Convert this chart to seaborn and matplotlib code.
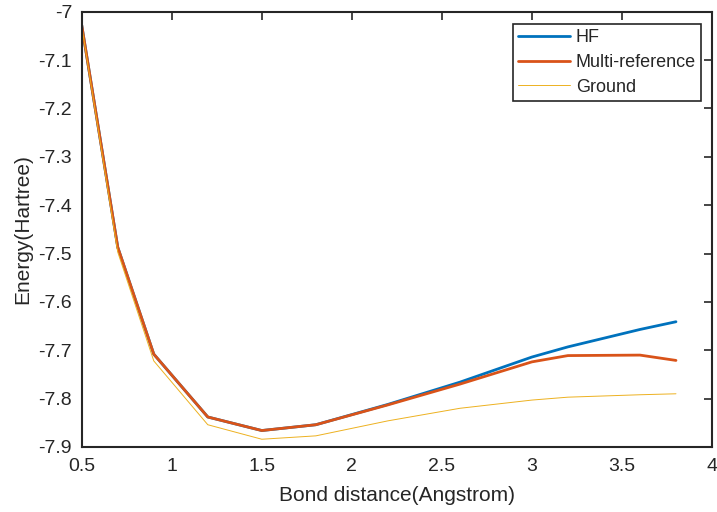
import matplotlib
matplotlib.use('Agg')
import matplotlib.pyplot as plt
import pandas as pd
import seaborn as sns
from matplotlib.ticker import FuncFormatter

bond = [0.5, 0.7, 0.9, 1.2, 1.5, 1.8, 2.2, 2.6, 3.0, 3.2, 3.6, 3.8]
hf = [-7.028, -7.487, -7.708, -7.838, -7.866, -7.854, -7.812, -7.766, -7.714, -7.693, -7.657, -7.641]
multi_ref = [-7.028, -7.487, -7.708, -7.838, -7.866, -7.854, -7.813, -7.770, -7.724, -7.711, -7.710, -7.721]
ground = [-7.030, -7.497, -7.722, -7.854, -7.884, -7.877, -7.846, -7.820, -7.803, -7.797, -7.792, -7.790]

series_names = ['HF', 'Multi-reference', 'Ground']
colors = ['#0072BD', '#D95319', '#EDB120']
widths = [2.0, 2.0, 0.7]

sns.set_style('white')
plt.rcParams['font.family'] = ['Liberation Sans', 'DejaVu Sans']
plt.rcParams['axes.unicode_minus'] = False

fig = plt.figure(figsize=(7.17, 5.12), dpi=100)
ax = fig.add_axes([0.114, 0.127, 0.879, 0.850])

for name, vals, c, lw in zip(series_names, [hf, multi_ref, ground], colors, widths):
    df = pd.DataFrame({'x': bond, 'y': vals})
    sns.lineplot(data=df, x='x', y='y', ax=ax, color=c, linewidth=lw, label=name)

ax.set_xlim(0.5, 4)
ax.set_ylim(-7.9, -7)
ax.set_xticks([0.5, 1, 1.5, 2, 2.5, 3, 3.5, 4])
ax.set_yticks([-7.9, -7.8, -7.7, -7.6, -7.5, -7.4, -7.3, -7.2, -7.1, -7])
ax.xaxis.set_major_formatter(FuncFormatter(lambda v, p: f'{v:g}'))
ax.yaxis.set_major_formatter(FuncFormatter(lambda v, p: f'{v:g}'))
ax.tick_params(direction='in', length=6, width=1.2, top=True, right=True,
               labelsize=14, colors='#262626')
ax.tick_params(axis='x', pad=8)
ax.tick_params(axis='y', pad=7)
for s in ax.spines.values():
    s.set_linewidth(1.5)
    s.set_color('#262626')

ax.set_xlabel('Bond distance(Angstrom)', fontsize=15, color='#262626', labelpad=8)
ax.set_ylabel('Energy(Hartree)', fontsize=15, color='#262626', labelpad=4)

leg = ax.legend(loc='upper right', bbox_to_anchor=(0.983, 0.972), fontsize=13,
                fancybox=False, framealpha=1, edgecolor='#262626',
                handlelength=2.9, handletextpad=0.3, borderpad=0.3,
                labelspacing=0.42, borderaxespad=0)
leg.get_frame().set_linewidth(1.2)

fig.savefig('out.png', dpi=100)
